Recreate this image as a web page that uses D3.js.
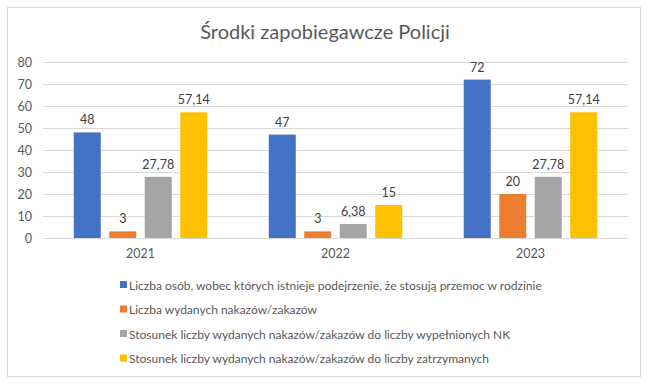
<!DOCTYPE html>
<html>
<head>
<meta charset="utf-8">
<script src="https://d3js.org/d3.v7.min.js"></script>
<style>
  body { margin: 0; background: #fff; }
  text { font-family: Lato, "Open Sans", sans-serif; }
</style>
</head>
<body>
<script>
// data
var years = ["2021", "2022", "2023"];
var seriesNames = [
  "Liczba osób, wobec których istnieje podejrzenie, że stosują przemoc w rodzinie",
  "Liczba wydanych nakazów/zakazów",
  "Stosunek liczby wydanych nakazów/zakazów do liczby wypełnionych NK",
  "Stosunek liczby wydanych nakazów/zakazów do liczby zatrzymanych"
];
var osoby = [48, 47, 72];
var nakazy = [3, 3, 20];
var stosunekNK = [27.78, 6.38, 27.78];
var stosunekZatrz = [57.14, 15, 57.14];
var yTicks = [0, 10, 20, 30, 40, 50, 60, 70, 80];
var colors = ["#4472c4", "#ed7d31", "#a5a5a5", "#ffc000"];

var allSeries = [osoby, nakazy, stosunekNK, stosunekZatrz];

var width = 650, height = 388;
var svg = d3.select("body").append("svg")
    .attr("width", width)
    .attr("height", height);

// chart frame
svg.append("rect")
    .attr("x", 7.5).attr("y", 7.5)
    .attr("width", 633).attr("height", 369)
    .attr("fill", "#fff")
    .attr("stroke", "#d9d9d9");

svg.append("text")
    .attr("x", 325).attr("y", 39)
    .attr("text-anchor", "middle")
    .attr("font-size", 20)
    .attr("fill", "#595959")
    .text("Środki zapobiegawcze Policji");

var x = d3.scaleBand().domain(years).range([43, 628]);
var y = d3.scaleLinear().domain([0, 80]).range([238, 62]);

// gridlines
svg.append("g").selectAll("line")
    .data(yTicks)
    .enter().append("line")
    .attr("x1", 43).attr("x2", 628)
    .attr("y1", function(d) { return y(d) + 0.5; })
    .attr("y2", function(d) { return y(d) + 0.5; })
    .attr("stroke", "#d9d9d9");

// y tick labels
svg.append("g").selectAll("text")
    .data(yTicks)
    .enter().append("text")
    .attr("x", 32)
    .attr("y", function(d) { return y(d) + 4.5; })
    .attr("text-anchor", "end")
    .attr("font-size", 12.5)
    .attr("fill", "#595959")
    .text(function(d) { return d; });

// x labels
svg.append("g").selectAll("text")
    .data(years)
    .enter().append("text")
    .attr("x", function(d) { return x(d) + x.bandwidth() / 2; })
    .attr("y", 258)
    .attr("text-anchor", "middle")
    .attr("font-size", 12.5)
    .attr("fill", "#595959")
    .text(function(d) { return d; });

var barW = 27, step = 35.5;
var fmt = function(v) { return String(v).replace(".", ","); };

allSeries.forEach(function(vals, si) {
  var g = svg.append("g");
  var off = (si - 1.5) * step - barW / 2;
  g.selectAll("rect")
    .data(vals)
    .enter().append("rect")
    .attr("x", function(d, i) { return x(years[i]) + x.bandwidth() / 2 + off; })
    .attr("y", function(d) { return y(d); })
    .attr("width", barW)
    .attr("height", function(d) { return y(0) - y(d); })
    .attr("fill", colors[si]);
  g.selectAll("text")
    .data(vals)
    .enter().append("text")
    .attr("x", function(d, i) { return x(years[i]) + x.bandwidth() / 2 + off + barW / 2; })
    .attr("y", function(d) { return y(d) - 8; })
    .attr("text-anchor", "middle")
    .attr("font-size", 12.5)
    .attr("fill", "#404040")
    .text(fmt);
});

// legend
var leg = svg.append("g").selectAll("g")
    .data(seriesNames)
    .enter().append("g")
    .attr("transform", function(d, i) { return "translate(120," + (285 + i * 24.5) + ")"; });
leg.append("rect")
    .attr("x", 0).attr("y", -4)
    .attr("width", 7).attr("height", 7)
    .attr("fill", function(d, i) { return colors[i]; });
leg.append("text")
    .attr("x", 9).attr("y", 4.5)
    .attr("font-size", 12)
    .attr("fill", "#595959")
    .text(function(d) { return d; });
</script>
</body>
</html>
